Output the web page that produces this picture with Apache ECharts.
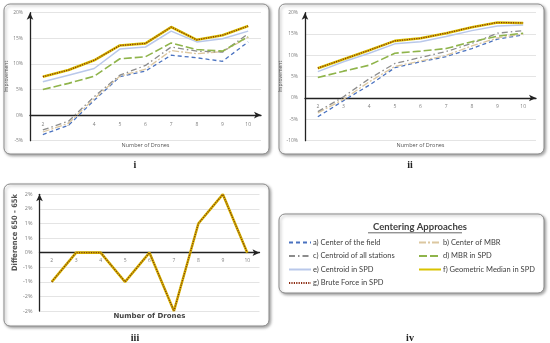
<!DOCTYPE html>
<html>
<head>
<meta charset="utf-8">
<script src="https://cdn.jsdelivr.net/npm/echarts@6/dist/echarts.min.js"></script>
<style>
html,body{margin:0;padding:0;background:#fff;}
#c{width:550px;height:343px;}
</style>
</head>
<body>
<div id="c"></div>
<script>
// ---------- data ----------
var drones = ['2', '3', '4', '5', '6', '7', '8', '9', '10'];
var seriesNames = [
  'a) Center of the field',
  'b) Center of MBR',
  'c) Centroid of all stations',
  'd) MBR in SPD',
  'e) Centroid in SPD',
  'f) Geometric Median in SPD',
  'g) Brute Force in SPD'
];
// panel i (improvement, %)
var i_a = [-3.8, -2.0, 2.9, 7.5, 8.6, 11.7, 11.2, 10.5, 14.3];
var i_b = [-3.3, -1.6, 3.2, 7.6, 9.0, 12.6, 12.0, 12.4, 15.2];
var i_c = [-2.9, -1.2, 3.6, 7.8, 9.7, 13.3, 12.5, 12.3, 15.9];
var i_d = [5.0, 6.2, 7.6, 11.0, 11.4, 14.1, 12.8, 12.5, 15.3];
var i_e = [6.5, 7.8, 9.1, 12.9, 13.3, 16.4, 14.3, 14.9, 16.4];
var i_f = [7.5, 8.8, 10.7, 13.6, 14.0, 17.2, 14.7, 15.6, 17.4];
var i_g = [7.5, 8.8, 10.7, 13.6, 14.0, 17.2, 14.7, 15.6, 17.4];
// panel ii (improvement, %)
var ii_a = [-4.4, -0.6, 3.0, 7.1, 8.5, 9.7, 11.6, 13.8, 14.8];
var ii_b = [-3.5, -0.3, 3.8, 7.4, 8.7, 10.0, 12.2, 14.1, 15.0];
var ii_c = [-3.2, 0.3, 4.5, 8.1, 9.5, 10.9, 12.8, 15.2, 15.8];
var ii_d = [4.8, 6.3, 7.7, 10.5, 11.0, 11.6, 13.2, 14.5, 15.2];
var ii_e = [6.2, 8.5, 10.5, 12.7, 13.2, 14.4, 15.8, 16.9, 17.1];
var ii_f = [7.0, 9.1, 11.2, 13.4, 14.0, 15.2, 16.6, 17.7, 17.6];
var ii_g = [7.0, 9.1, 11.2, 13.4, 14.0, 15.2, 16.6, 17.7, 17.6];
// panel iii (difference 650 - 65k, %)
var iii_diff = [-1, 0, 0, -1, 0, -2, 1, 2, 0];

// ---------- styles ----------
var styles = [
  {color: '#4a72c0', width: 1.3, type: [4, 3]},
  {color: '#dcc7a0', width: 1.3, type: [7, 2, 2, 2]},
  {color: '#8c8c8c', width: 1.3, type: [6, 3, 1.5, 3]},
  {color: '#8fb44b', width: 1.6, type: [8, 3]},
  {color: '#b9c8ea', width: 1.5, type: 'solid'},
  {color: '#d9c300', width: 2.6, type: 'solid'},
  {color: '#8b2a10', width: 1.3, type: [1.2, 1.2]}
];

var tickFont = {fontSize: 5, color: '#808080', fontFamily: 'Open Sans'};

function mkSeries(dataArr, xi) {
  return dataArr.map(function (d, k) {
    return {
      name: seriesNames[k], type: 'line', xAxisIndex: xi, yAxisIndex: xi,
      data: d, symbol: 'none', smooth: false, z: 2 + k,
      lineStyle: {color: styles[k].color, width: styles[k].width, type: styles[k].type},
      itemStyle: {color: styles[k].color},
      emphasis: {disabled: true}
    };
  });
}

// the x axis sits on the zero line: offset it up from the grid bottom
function xAx(gi, offset, nameGap, nameStyle, margin) {
  return {
    type: 'category', gridIndex: gi, data: drones, boundaryGap: true, position: 'bottom',
    offset: offset,
    name: 'Number of Drones', nameLocation: 'middle', nameGap: nameGap,
    nameTextStyle: nameStyle,
    axisLine: {onZero: false, lineStyle: {color: '#222', width: 1.3}, symbol: ['none', 'arrow'], symbolSize: [5, 7]},
    axisTick: {show: false},
    axisLabel: Object.assign({margin: margin, interval: 0}, tickFont)
  };
}

function yAx(gi, min, max, interval, name, fmt, labelFont) {
  return {
    type: 'value', gridIndex: gi, min: min, max: max, interval: interval,
    name: name, nameLocation: 'middle', nameGap: 5,
    nameTextStyle: {fontSize: 5, color: '#555', fontFamily: 'Open Sans'},
    axisLine: {show: true, onZero: false, lineStyle: {color: '#222', width: 1.3}, symbol: ['none', 'arrow'], symbolSize: [5, 7]},
    axisTick: {show: false},
    axisLabel: Object.assign({margin: 7, formatter: fmt}, labelFont || tickFont),
    splitLine: {show: true, lineStyle: {color: '#e4e4e4', width: 1}}
  };
}

function roundPct(v) {
  var r = Math.sign(v) * Math.round(Math.abs(v));
  if (r === 0) r = 0;
  return r + '%';
}

var chart = echarts.init(document.getElementById('c'), null, {renderer: 'canvas'});

var boxStyle = {fill: '#fff', stroke: '#8a8a8a', lineWidth: 1, shadowBlur: 3, shadowOffsetX: 1.5, shadowOffsetY: 1.5, shadowColor: 'rgba(0,0,0,0.35)'};
var capFont = {fontFamily: 'Liberation Serif', fontWeight: 'bold', fontSize: 10, fill: '#222'};

var grids = [
  {left: 30, top: 12.7, width: 231, height: 128},
  {left: 305, top: 12.7, width: 231, height: 128},
  {left: 39.5, top: 194.3, width: 220, height: 116.7}
];
var yRanges = [[-5, 20], [-10, 20], [-2, 2]];
function zeroOffset(k) {
  var g = grids[k], r = yRanges[k];
  return -g.height * (0 - r[0]) / (r[1] - r[0]);
}

var legendText = {fontFamily: 'Lato', fontSize: 7.5, color: '#404040', padding: [0, 0, 0, -3]};

var option = {
  animation: false,
  backgroundColor: '#fff',
  title: {
    text: 'Centering Approaches', left: 415, top: 217.3, textAlign: 'center',
    textStyle: {fontFamily: 'Lato', fontWeight: 'bold', fontSize: 9.5, color: '#404040'}
  },
  grid: grids,
  xAxis: [
    xAx(0, zeroOffset(0), 27, {fontSize: 5.5, color: '#555', fontFamily: 'Open Sans'}, 6.5),
    xAx(1, zeroOffset(1), 44, {fontSize: 5.5, color: '#555', fontFamily: 'Open Sans'}, 6.5),
    xAx(2, zeroOffset(2), 60, {fontSize: 7, color: '#444', fontWeight: 'bold', fontFamily: 'DejaVu Sans'}, 5)
  ],
  yAxis: [
    yAx(0, yRanges[0][0], yRanges[0][1], 5, 'Improvement', '{value}%'),
    yAx(1, yRanges[1][0], yRanges[1][1], 5, 'Improvement', '{value}%'),
    yAx(2, yRanges[2][0], yRanges[2][1], 0.5, '', roundPct, {fontSize: 5.5, color: '#808080', fontFamily: 'Open Sans'})
  ],
  legend: [
    {
      data: [seriesNames[0], seriesNames[2], seriesNames[4], seriesNames[6]],
      orient: 'vertical', left: 283, top: 233.5, itemWidth: 22, itemHeight: 8, itemGap: 5.5,
      itemStyle: {opacity: 0},
      textStyle: legendText, selectedMode: false
    },
    {
      data: [seriesNames[1], seriesNames[3], seriesNames[5]],
      orient: 'vertical', left: 413, top: 233.5, itemWidth: 22, itemHeight: 8, itemGap: 5.5,
      itemStyle: {opacity: 0},
      textStyle: legendText, selectedMode: false
    }
  ],
  graphic: [
    {type: 'rect', z: -10, shape: {x: 4, y: 4, width: 265, height: 150, r: 6}, style: boxStyle},
    {type: 'rect', z: -10, shape: {x: 279, y: 4, width: 265, height: 150, r: 6}, style: boxStyle},
    {type: 'rect', z: -10, shape: {x: 4, y: 184, width: 265, height: 142, r: 6}, style: boxStyle},
    {type: 'rect', z: -10, shape: {x: 279, y: 214, width: 265, height: 79, r: 6}, style: boxStyle},
    {type: 'line', z: 10, shape: {x1: 368, y1: 232.8, x2: 462, y2: 232.8}, style: {stroke: '#404040', lineWidth: 0.8}},
    {type: 'text', z: 10, x: 135, y: 165, style: Object.assign({text: 'i', textAlign: 'center', textVerticalAlign: 'middle'}, capFont)},
    {type: 'text', z: 10, x: 410, y: 165, style: Object.assign({text: 'ii', textAlign: 'center', textVerticalAlign: 'middle'}, capFont)},
    {type: 'text', z: 10, x: 135, y: 338, style: Object.assign({text: 'iii', textAlign: 'center', textVerticalAlign: 'middle'}, capFont)},
    {type: 'text', z: 10, x: 410, y: 338, style: Object.assign({text: 'iv', textAlign: 'center', textVerticalAlign: 'middle'}, capFont)},
    {type: 'text', z: 10, x: 15, y: 232.5, rotation: Math.PI / 2,
     style: {text: 'Difference 650 - 65k', textAlign: 'center', textVerticalAlign: 'middle',
             fontFamily: 'Liberation Sans Narrow, DejaVu Sans Condensed', fontWeight: 'bold', fontSize: 7.5, fill: '#555'}}
  ],
  series: [].concat(
    mkSeries([i_a, i_b, i_c, i_d, i_e, i_f, i_g], 0),
    mkSeries([ii_a, ii_b, ii_c, ii_d, ii_e, ii_f, ii_g], 1),
    [
      {name: 'iii-f', type: 'line', xAxisIndex: 2, yAxisIndex: 2, data: iii_diff, symbol: 'none', z: 5,
       lineStyle: {color: '#d9b400', width: 2.6}},
      {name: 'iii-g', type: 'line', xAxisIndex: 2, yAxisIndex: 2, data: iii_diff, symbol: 'none', z: 6,
       lineStyle: {color: '#7a3a10', width: 1.2, type: [1.2, 1.2]}}
    ]
  )
};
chart.setOption(option);
</script>
</body>
</html>
